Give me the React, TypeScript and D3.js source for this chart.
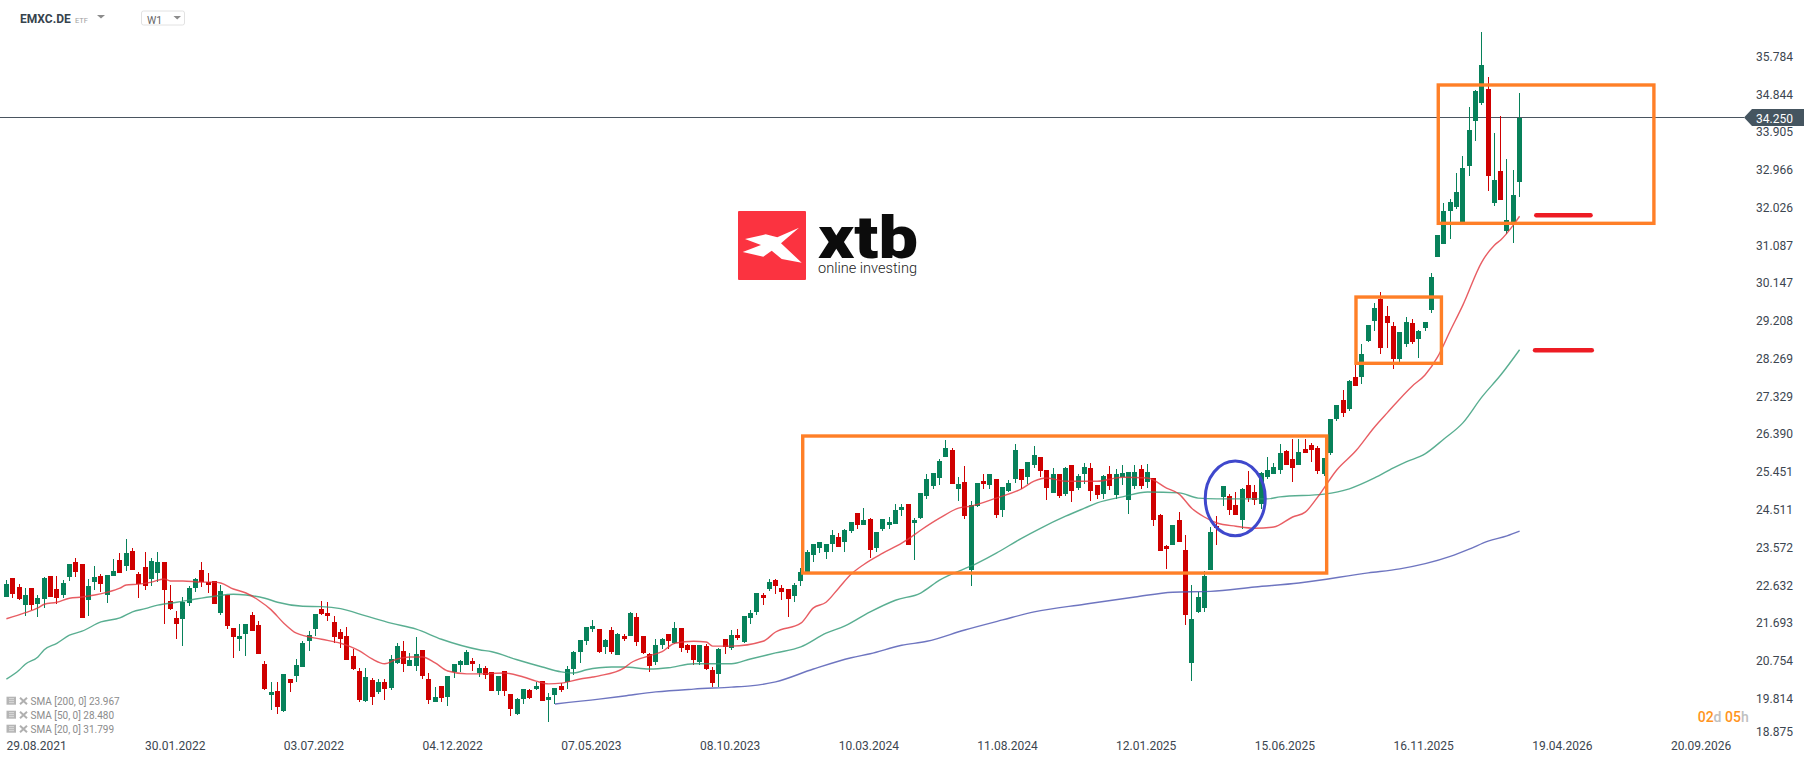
import * as d3 from "d3";

const width = 1816;
const height = 761;

// weekly candles, first one is 29.08.2021
const opens = [
  22.33, 22.80, 22.58, 22.13, 22.55, 22.15, 22.28, 22.85, 22.53, 22.38,
  22.83, 23.19, 23.14, 22.25, 22.70, 22.85, 22.38, 22.85, 23.24, 23.09,
  23.47, 22.90, 23.08, 22.78, 22.93, 23.19, 22.23, 21.81, 21.79, 22.18,
  22.55, 23.00, 22.70, 22.73, 21.94, 22.38, 21.56, 21.28, 21.41, 21.89,
  21.63, 20.67, 19.89, 19.99, 19.49, 20.29, 20.37, 20.59, 21.23, 21.53,
  22.04, 21.94, 21.71, 21.46, 21.36, 20.87, 20.49, 19.74, 20.27, 19.97,
  20.22, 20.07, 20.69, 20.99, 20.62, 20.62, 21.02, 20.29, 19.72, 20.12,
  19.84, 20.47, 20.64, 20.64, 20.74, 20.44, 20.57, 20.47, 19.99, 20.49,
  19.92, 19.42, 19.79, 20.02, 20.04, 20.24, 19.77, 19.89, 20.12, 20.22,
  20.54, 20.97, 21.23, 21.53, 21.53, 21.09, 21.51, 20.89, 21.36, 21.36,
  21.84, 21.36, 20.92, 20.72, 21.13, 21.41, 21.18, 21.56, 21.13, 21.13,
  20.72, 21.11, 20.52, 20.42, 21.28, 21.07, 21.38, 21.21, 21.81, 21.96,
  22.38, 22.53, 22.75, 22.55, 22.53, 22.35, 22.73, 22.95, 23.37, 23.54,
  23.44, 23.64, 23.82, 23.69, 23.97, 24.42, 24.12, 24.27, 23.54, 24.02,
  24.12, 24.14, 24.49, 24.64, 24.17, 24.29, 24.84, 25.08, 25.29, 25.81,
  25.99, 25.02, 25.19, 23.00, 24.59, 25.21, 25.11, 25.26, 24.49, 24.97,
  25.26, 25.51, 25.31, 25.61, 25.81, 25.49, 24.92, 25.39, 24.89, 25.61,
  25.04, 25.39, 25.54, 25.11, 24.89, 25.39, 24.87, 25.31, 24.74, 25.08,
  25.51, 25.19, 25.29, 24.37, 23.59, 23.62, 24.24, 23.49, 20.69, 21.96,
  22.06, 23.00, 24.09, 24.82, 24.84, 24.62, 24.24, 25.11, 24.94, 24.64,
  25.31, 25.39, 25.49, 25.96, 25.76, 25.61, 26.01, 26.10, 26.04, 25.39,
  25.91, 26.75, 27.23, 27.00, 27.80, 27.80, 28.70, 29.19, 29.74, 29.31,
  29.06, 28.25, 28.62, 29.14, 28.75, 29.02, 29.46, 30.79, 31.11, 31.93,
  32.02, 31.66, 33.05, 34.17, 34.62, 34.97, 32.12, 32.92, 31.43, 31.63,
  32.65,
];

const highs = [
  22.75, 22.80, 22.65, 22.55, 22.55, 22.38, 22.83, 22.85, 22.85, 22.75,
  23.14, 23.29, 23.14, 22.78, 23.09, 22.90, 22.88, 23.27, 23.42, 23.77,
  23.54, 22.95, 23.44, 23.29, 23.44, 23.19, 22.63, 21.99, 22.33, 22.60,
  22.80, 23.19, 22.93, 22.73, 22.63, 22.38, 21.56, 21.66, 21.66, 21.96,
  21.73, 20.74, 20.22, 20.22, 20.42, 20.29, 20.79, 21.23, 21.48, 21.91,
  22.23, 22.20, 21.86, 21.53, 21.58, 21.04, 20.57, 20.57, 20.32, 20.29,
  20.29, 20.89, 21.18, 21.23, 20.94, 21.33, 21.02, 20.44, 20.09, 20.12,
  20.37, 20.67, 20.77, 21.02, 20.82, 20.67, 20.62, 20.47, 20.37, 20.49,
  19.92, 19.82, 20.04, 20.04, 20.22, 20.24, 19.94, 20.07, 20.19, 20.62,
  20.99, 21.26, 21.58, 21.76, 21.53, 21.28, 21.58, 21.43, 21.41, 21.96,
  21.94, 21.36, 20.94, 21.28, 21.31, 21.41, 21.71, 21.56, 21.16, 21.13,
  21.13, 21.16, 20.59, 21.07, 21.28, 21.51, 21.53, 21.86, 22.01, 22.43,
  22.43, 22.78, 22.78, 22.63, 22.53, 22.68, 23.05, 23.49, 23.64, 23.69,
  23.64, 23.99, 23.92, 24.02, 24.19, 24.42, 24.54, 24.29, 23.94, 24.27,
  24.32, 24.64, 24.64, 24.64, 24.29, 24.92, 25.39, 25.41, 25.76, 26.23,
  26.04, 25.31, 25.59, 24.72, 25.16, 25.39, 25.39, 25.26, 25.07, 25.24,
  26.13, 25.51, 25.69, 26.08, 25.81, 25.49, 25.54, 25.39, 25.56, 25.61,
  25.39, 25.66, 25.66, 25.11, 25.36, 25.59, 25.51, 25.61, 25.44, 25.61,
  25.61, 25.64, 25.29, 24.39, 23.62, 24.12, 24.44, 23.87, 22.63, 22.45,
  22.98, 24.07, 24.34, 25.08, 24.89, 24.94, 25.04, 25.46, 25.11, 25.44,
  25.81, 25.66, 26.13, 25.99, 26.25, 26.25, 26.25, 26.15, 26.08, 25.79,
  26.75, 27.10, 27.48, 27.73, 28.09, 28.62, 29.09, 29.64, 29.91, 29.56,
  29.16, 28.92, 29.29, 29.24, 28.97, 29.16, 30.39, 31.33, 32.12, 32.22,
  32.87, 33.30, 34.52, 34.94, 36.38, 35.26, 33.88, 34.29, 33.22, 32.95,
  34.87,
];

const lows = [
  22.33, 22.30, 22.25, 21.86, 22.01, 21.84, 22.06, 22.33, 22.15, 22.30,
  22.73, 22.83, 21.81, 21.86, 22.50, 22.45, 22.18, 22.85, 22.93, 22.98,
  23.00, 22.30, 22.50, 22.60, 22.70, 21.66, 22.01, 21.28, 21.11, 22.10,
  22.45, 22.58, 22.43, 22.15, 21.89, 21.53, 20.82, 20.99, 20.87, 21.48,
  20.92, 20.02, 19.52, 19.42, 19.47, 19.97, 20.22, 20.59, 20.99, 21.36,
  21.89, 21.73, 21.18, 21.07, 20.77, 20.52, 19.72, 19.72, 19.64, 19.92,
  19.77, 20.02, 20.67, 20.47, 20.62, 20.49, 20.29, 19.67, 19.72, 19.72,
  19.62, 20.32, 20.47, 20.64, 20.49, 20.34, 20.29, 19.99, 19.89, 19.87,
  19.37, 19.39, 19.67, 19.79, 20.02, 19.74, 19.22, 19.67, 19.97, 20.04,
  20.39, 20.69, 21.13, 21.46, 20.94, 20.92, 20.92, 20.89, 21.23, 21.36,
  21.11, 20.92, 20.47, 20.64, 21.04, 21.04, 21.16, 20.97, 20.94, 20.64,
  20.64, 20.52, 20.09, 20.09, 20.92, 21.02, 21.26, 21.18, 21.66, 21.89,
  22.13, 22.48, 22.40, 22.25, 21.84, 22.20, 22.60, 22.95, 23.19, 23.42,
  23.27, 23.44, 23.57, 23.44, 23.92, 24.02, 24.12, 23.29, 23.44, 23.97,
  24.02, 24.14, 24.34, 23.62, 23.24, 24.27, 24.77, 25.02, 25.11, 25.81,
  25.13, 24.72, 24.27, 22.60, 24.57, 25.02, 25.02, 24.29, 24.32, 24.94,
  25.16, 25.02, 25.13, 25.54, 25.31, 24.74, 24.92, 24.79, 24.84, 24.69,
  24.99, 25.13, 24.72, 24.77, 24.77, 24.99, 24.77, 25.11, 24.39, 25.02,
  25.02, 25.04, 24.09, 23.47, 23.03, 23.62, 23.69, 21.63, 20.24, 21.94,
  21.96, 23.00, 23.62, 24.59, 24.37, 24.37, 24.02, 24.69, 24.62, 24.52,
  25.26, 25.39, 25.39, 25.61, 25.19, 25.61, 25.91, 25.69, 25.39, 25.34,
  25.86, 26.70, 26.80, 26.95, 27.58, 27.63, 28.67, 28.95, 28.37, 28.52,
  28.01, 28.17, 28.55, 28.62, 28.27, 28.95, 29.39, 30.79, 31.11, 31.23,
  31.98, 31.66, 32.80, 33.67, 34.57, 32.42, 32.05, 32.20, 31.36, 31.13,
  32.27,
];

const closes = [
  22.65, 22.40, 22.28, 22.38, 22.13, 22.30, 22.80, 22.33, 22.30, 22.68,
  23.14, 22.95, 21.81, 22.60, 22.83, 22.65, 22.88, 22.98, 22.93, 23.42,
  23.00, 22.65, 22.60, 23.22, 23.19, 22.50, 22.04, 21.66, 22.20, 22.55,
  22.78, 22.70, 22.63, 22.15, 22.48, 21.61, 21.33, 21.36, 21.66, 21.48,
  20.92, 20.04, 19.97, 19.59, 20.42, 20.19, 20.64, 21.18, 21.38, 21.91,
  21.91, 21.86, 21.33, 21.28, 20.77, 20.54, 19.77, 20.34, 19.84, 20.22,
  20.04, 20.79, 21.11, 20.67, 20.77, 20.92, 20.37, 19.77, 19.84, 19.82,
  20.37, 20.67, 20.74, 20.97, 20.67, 20.57, 20.39, 19.99, 20.37, 19.99,
  19.54, 19.79, 20.04, 19.82, 20.12, 19.74, 19.84, 20.07, 20.02, 20.54,
  20.97, 21.26, 21.58, 21.61, 20.97, 21.26, 20.97, 21.41, 21.28, 21.94,
  21.21, 20.94, 20.62, 21.13, 21.28, 21.23, 21.56, 21.07, 21.02, 20.77,
  21.13, 20.54, 20.19, 21.04, 21.09, 21.38, 21.31, 21.86, 21.94, 22.43,
  22.30, 22.70, 22.60, 22.45, 22.28, 22.63, 22.95, 23.44, 23.64, 23.69,
  23.64, 23.87, 23.57, 23.99, 24.19, 24.12, 24.24, 23.49, 23.94, 24.27,
  24.19, 24.49, 24.57, 23.62, 24.24, 24.92, 25.26, 25.41, 25.71, 26.04,
  25.13, 25.13, 24.34, 24.62, 25.16, 25.13, 25.39, 24.37, 25.07, 25.16,
  25.99, 25.24, 25.69, 25.86, 25.46, 25.04, 25.39, 24.84, 25.54, 24.97,
  25.34, 25.56, 24.97, 24.87, 25.34, 25.08, 25.39, 25.41, 25.44, 25.44,
  25.08, 25.44, 24.24, 23.47, 23.52, 24.12, 23.69, 21.89, 21.79, 22.33,
  22.85, 23.94, 24.04, 25.08, 24.49, 24.37, 25.02, 24.79, 24.74, 25.41,
  25.49, 25.56, 25.91, 25.61, 25.54, 25.94, 25.91, 25.99, 25.46, 25.79,
  26.75, 27.10, 26.90, 27.70, 27.58, 28.37, 29.09, 29.51, 28.52, 29.14,
  28.25, 28.92, 29.16, 28.67, 28.95, 29.16, 30.29, 31.33, 31.93, 32.15,
  32.40, 33.00, 33.95, 34.92, 35.56, 32.80, 32.70, 32.20, 31.71, 32.32,
  34.25,
];

// moving averages, read at the candle index in the matching *At array
const sma20At = [0, 3, 5, 6, 8, 10, 12, 14, 16, 18, 19, 21, 23, 25, 26, 28, 31, 33, 34, 36, 38, 40, 42, 44, 46, 50, 53, 56, 58, 60, 62, 64, 66, 68, 70, 73, 75, 79, 82, 84, 86, 88, 91, 93, 94, 98, 99, 102, 104, 106, 109, 111, 112, 115, 120, 122, 126, 128, 130, 132, 134, 136, 139, 142, 143, 145, 148, 151, 153, 157, 161, 163, 165, 168, 173, 177, 181, 184, 186, 188, 190, 192, 195, 198, 201, 204, 206, 208, 211, 214, 217, 219, 223, 225, 227, 229, 231, 234, 236, 237, 239, 240];
const sma20 = [21.79, 21.94, 22.06, 22.15, 22.20, 22.30, 22.33, 22.38, 22.45, 22.55, 22.63, 22.65, 22.70, 22.78, 22.73, 22.73, 22.70, 22.70, 22.68, 22.53, 22.43, 22.25, 22.01, 21.68, 21.43, 21.28, 21.18, 20.99, 20.79, 20.67, 20.79, 20.84, 20.84, 20.69, 20.49, 20.42, 20.42, 20.44, 20.34, 20.24, 20.17, 20.19, 20.29, 20.34, 20.37, 20.57, 20.69, 20.87, 20.97, 21.18, 21.23, 21.21, 21.11, 21.11, 21.23, 21.46, 21.68, 22.06, 22.20, 22.55, 22.90, 23.14, 23.42, 23.67, 23.77, 23.99, 24.29, 24.54, 24.59, 24.79, 25.02, 25.21, 25.29, 25.21, 25.21, 25.31, 25.29, 25.04, 24.89, 24.54, 24.32, 24.17, 24.09, 24.04, 24.07, 24.32, 24.44, 24.82, 25.49, 25.96, 26.56, 26.91, 27.58, 27.85, 28.30, 28.95, 29.59, 30.66, 31.08, 31.21, 31.58, 31.799];

const sma50At = [0, 2, 3, 5, 6, 8, 10, 12, 15, 18, 20, 22, 24, 27, 30, 33, 36, 38, 41, 43, 47, 50, 53, 57, 61, 65, 69, 75, 77, 81, 85, 88, 90, 92, 94, 96, 98, 102, 105, 109, 115, 118, 122, 126, 130, 133, 137, 141, 145, 148, 154, 157, 161, 164, 168, 171, 173, 177, 181, 186, 189, 192, 200, 202, 209, 213, 217, 220, 222, 225, 228, 231, 234, 237, 240];
const sma50 = [20.29, 20.51, 20.66, 20.84, 21.02, 21.18, 21.38, 21.48, 21.71, 21.81, 21.96, 22.04, 22.13, 22.20, 22.28, 22.35, 22.40, 22.38, 22.30, 22.20, 22.10, 22.09, 22.04, 21.86, 21.68, 21.53, 21.28, 21.02, 20.97, 20.77, 20.59, 20.47, 20.44, 20.52, 20.57, 20.59, 20.59, 20.54, 20.57, 20.67, 20.67, 20.79, 20.94, 21.09, 21.43, 21.61, 21.96, 22.25, 22.43, 22.75, 23.17, 23.42, 23.79, 24.04, 24.34, 24.54, 24.67, 24.82, 24.94, 24.92, 24.79, 24.77, 24.77, 24.82, 24.89, 25.02, 25.29, 25.54, 25.69, 25.89, 26.26, 26.66, 27.30, 27.85, 28.48];

const sma200At = [87, 94, 98, 103, 109, 115, 118, 122, 128, 134, 137, 142, 146, 152, 158, 163, 171, 179, 185, 191, 198, 205, 216, 221, 229, 232, 235, 238, 240];
const sma200 = [19.67, 19.79, 19.87, 19.97, 20.04, 20.09, 20.12, 20.22, 20.54, 20.82, 20.92, 21.13, 21.23, 21.51, 21.76, 21.96, 22.15, 22.33, 22.45, 22.47, 22.58, 22.68, 22.93, 23.03, 23.34, 23.52, 23.72, 23.85, 23.967];

const priceTicks = [18.875, 19.814, 20.754, 21.693, 22.632, 23.572, 24.511, 25.451, 26.39, 27.329, 28.269, 29.208, 30.147, 31.087, 32.026, 32.966, 33.905, 34.844, 35.784];
const dateLabels = ["29.08.2021", "30.01.2022", "03.07.2022", "04.12.2022", "07.05.2023", "08.10.2023", "10.03.2024", "11.08.2024", "12.01.2025", "15.06.2025", "16.11.2025", "19.04.2026", "20.09.2026"];
const legendLabels = ["SMA [200, 0] 23.967", "SMA [50, 0] 28.480", "SMA [20, 0] 31.799"];
const lastPrice = 34.25;

// drawn-on annotations, in candle index and price
const boxes = [
  { from: 126.3, to: 209.4, top: 26.334, bottom: 22.926 },
  { from: 214.05, to: 227.6, top: 29.79, bottom: 28.142 },
  { from: 227.1, to: 261.3, top: 35.063, bottom: 31.623 },
];
const circle = { at: 194.9, radius: 4.76, top: 25.712, bottom: 23.854 };
const levels = [
  { from: 242.65, to: 251.25, price: 31.822 },
  { from: 242.45, to: 251.45, price: 28.465 },
];

const x = d3.scaleLinear().domain([0, 240]).range([6.4, 1519.6]);
const y = d3.scaleLinear().domain([19.814, 35.784]).range([698.2, 56]);

const smaLine = (at: number[], values: number[]) =>
  d3.line<number>()
    .x((_, i) => x(at[i]))
    .y(d => y(d))
    .curve(d3.curveMonotoneX)(values) || "";

const font = "Roboto, sans-serif";
const green = "#07815a";
const red = "#cf0000";

const App = () => (
  <svg width={width} height={height} style={{ position: "absolute", left: 0, top: 0, background: "#fff" }} fontFamily={font}>
    {/* header */}
    <text x={20} y={23} fontSize={12} fontWeight={700} fill="#37434d">EMXC.DE</text>
    <text x={75} y={22.5} fontSize={7.5} fill="#a0a0a0">ETF</text>
    <path d="M97 15L105 15L101 18.5Z" fill="#8c8c8c" />
    <rect x={141.5} y={11} width={43} height={14} rx={2} fill="#fff" stroke="#e2e2e2" />
    <text x={147} y={23.5} fontSize={10.5} fill="#666">W1</text>
    <path d="M173.5 16L181 16L177.2 19.5Z" fill="#8c8c8c" />

    {/* logo */}
    <rect x={738} y={211} width={68} height={69} rx={1} fill="#fb3340" />
    <path d="M745 239L765.7 234.3L777.3 237.3L799 227.7L781 243.3L801.7 262.7L781.7 259L771.7 250.7L763.3 256.7L742.7 252L761 245Z" fill="#fff" />
    <text x={818} y={258.3} fontSize={60} fontWeight={900} fill="#0c0c0c" textLength={100} lengthAdjust="spacingAndGlyphs">xtb</text>
    <text x={818} y={272.7} fontSize={14.5} fontWeight={300} fill="#222" textLength={99} lengthAdjust="spacingAndGlyphs">online investing</text>

    {/* last price line */}
    <line x1={0} x2={1744} y1={Math.floor(y(lastPrice)) + 0.5} y2={Math.floor(y(lastPrice)) + 0.5} stroke="#4a5560" strokeWidth={1} />

    {/* candles */}
    <g shapeRendering="crispEdges">
      {closes.map((c, i) => {
        const cx = Math.floor(x(i)) + 0.5;
        const color = c >= opens[i] ? green : red;
        const top = y(Math.max(opens[i], c));
        const bottom = y(Math.min(opens[i], c));
        return (
          <g key={i} fill={color}>
            <rect x={cx - 0.5} width={1} y={y(highs[i])} height={y(lows[i]) - y(highs[i])} />
            <rect x={cx - 2.5} width={5} y={top} height={Math.max(bottom - top, 1)} />
          </g>
        );
      })}
    </g>

    {/* moving averages */}
    <g fill="none" strokeWidth={1.4}>
      <path d={smaLine(sma200At, sma200)} stroke="#4a52b0" strokeOpacity={0.8} />
      <path d={smaLine(sma50At, sma50)} stroke="#2f9a76" strokeOpacity={0.8} />
      <path d={smaLine(sma20At, sma20)} stroke="#e2343c" strokeOpacity={0.8} />
    </g>

    {/* annotations */}
    <g fill="none" stroke="#ff7f27" strokeWidth={3.4}>
      {boxes.map((b, i) => (
        <rect key={i} x={x(b.from)} y={y(b.top)} width={x(b.to) - x(b.from)} height={y(b.bottom) - y(b.top)} />
      ))}
    </g>
    <ellipse
      cx={x(circle.at)}
      cy={(y(circle.top) + y(circle.bottom)) / 2}
      rx={x(circle.at + circle.radius) - x(circle.at)}
      ry={(y(circle.bottom) - y(circle.top)) / 2}
      fill="none"
      stroke="#3f48cc"
      strokeWidth={3}
    />
    {levels.map((l, i) => (
      <line key={i} x1={x(l.from)} x2={x(l.to)} y1={y(l.price)} y2={y(l.price)} stroke="#ed1c24" strokeWidth={4.5} strokeLinecap="round" />
    ))}

    {/* price axis, the lowest label gets pushed up to stay on the page */}
    <g fontSize={12} fill="#3c4650">
      {priceTicks.map(t => (
        <text key={t} x={1756} y={Math.min(y(t), 731.6) + 4.7}>{t.toFixed(3)}</text>
      ))}
    </g>
    <path d="M1744 117.5L1752 109L1804 109L1804 126L1752 126Z" fill="#455560" />
    <text x={1756} y={122.5} fontSize={12} fill="#fff">{lastPrice.toFixed(3)}</text>

    {/* time axis */}
    <g fontSize={12} fill="#3c4650">
      {dateLabels.map((d, i) => (
        <text key={d} x={x(i * 22)} y={749.5}>{d}</text>
      ))}
    </g>

    {/* sma legend */}
    {legendLabels.map((l, i) => (
      <g key={l} transform={`translate(0,${701.7 + i * 14})`}>
        <rect x={6.5} y={-5} width={9.5} height={8} fill="#b5b5b5" />
        <path d="M9 -3H14M9 -1H14M9 1H14" stroke="#eee" strokeWidth={0.7} />
        <path d="M20 -4L27 2.5M27 -4L20 2.5" stroke="#b0b0b0" strokeWidth={2} />
        <text x={30.5} y={3.5} fontSize={10} fill="#8c8c8c">{l}</text>
      </g>
    ))}

    {/* bar countdown */}
    <text x={1697.7} y={721.7} fontSize={14} fontWeight={500}>
      <tspan fill="#ff9420">02</tspan>
      <tspan fill="#c0c0c0">d </tspan>
      <tspan fill="#ff9420">05</tspan>
      <tspan fill="#c0c0c0">h</tspan>
    </text>
  </svg>
);

export default App;
